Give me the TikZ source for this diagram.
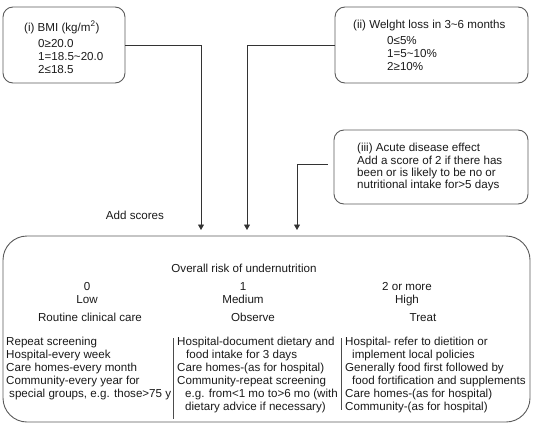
\documentclass[tikz,border=0pt]{standalone}
\usepackage{fontspec}
\setmainfont{Liberation Sans}
\usetikzlibrary{arrows.meta}
\definecolor{boxgray}{HTML}{5A5A5A}
\definecolor{txt}{HTML}{1A1A1A}
\begin{document}
\begin{tikzpicture}[x=1pt,y=-1pt,
  box/.style={draw=boxgray, line width=0.9pt, rounded corners=10pt, inner sep=0pt},
  bigbox/.style={draw=boxgray, line width=0.9pt, rounded corners=24pt, inner sep=0pt},
  conn/.style={draw=black!80, line width=0.8pt, -{Triangle[width=6pt,length=5.5pt]}},
  sep/.style={draw=black!70, line width=0.7pt},
  lbl/.style={inner sep=0pt, anchor=base, text=txt, font=\fontsize{11.6}{13}\selectfont},
  lblw/.style={inner sep=0pt, anchor=base west, text=txt, font=\fontsize{11.6}{13}\selectfont},
  col/.style={inner sep=0pt, anchor=north west, align=left, text=txt, font=\fontsize{11.6}{13}\selectfont},
  col3/.style={inner sep=0pt, anchor=north west, align=left, text=txt, font=\fontsize{11.6}{12}\selectfont}]
\useasboundingbox (0,0) rectangle (543,423);

% boxes
\node[box, minimum width=122pt, minimum height=76pt] (b1) at (64,45) {};
\node[box, minimum width=193pt, minimum height=76pt] (b2) at (431.5,45) {};
\node[box, minimum width=194pt, minimum height=74pt] (b3) at (431,167) {};
\node[bigbox, minimum width=527pt, minimum height=186pt] (big) at (266.5,329) {};

% box 1 text
\node[lblw] (t1h) at (24,31) {(i) BMI (kg/m\textsuperscript{2})};
\node[col] (t1) at (38,37.9) {\strut 0≥20.0\\1=18.5\textasciitilde 20.0\\2≤18.5};

% box 2 text
\node[lblw] (t2h) at (353,28) {(ii) Welght loss in 3\textasciitilde 6 months};
\node[col] (t2) at (387,34.9) {\strut 0≤5\%\\1=5\textasciitilde 10\%\\2≥10\%};

% box 3 text
\node[col3] (t3) at (357,142.6) {\strut (iii) Acute disease effect\\Add a score of 2 if there has\\been or is likely to be no or\\nutritional intake for>5 days};

% connectors
\coordinate (a1) at (201,230);
\coordinate (a2) at (247,230);
\coordinate (a3) at (297,230);
\draw[conn] (b1.east) -| (a1);
\draw[conn] (b2.west) -| (a2);
\draw[conn] ([xshift=-6pt,yshift=3pt]b3.west) -| (a3);

\node[lbl] (add) at (135,219) {Add scores};

% big box contents
\node[lbl] (ovr) at (244,272) {Overall risk of undernutrition};
\node[lbl] (s0) at (87,290) {0};
\node[lbl] (low) at (87,303) {Low};
\node[lbl] (s1) at (243,290) {1};
\node[lbl] (med) at (243,303) {Medium};
\node[lbl] (s2) at (407,290) {2 or more};
\node[lbl] (high) at (407,303) {High};
\node[lbl] (rcc) at (90,321) {Routine clinical care};
\node[lbl] (obs) at (253,321) {Observe};
\node[lbl] (trt) at (423,321) {Treat};

\node[col] (c1) at (6,336) {\strut Repeat screening\\Hospital-every week\\Care homes-every month\\Community-every year for\\\hspace{3pt}special groups, e.g. those>75 y};
\node[col] (c2) at (177,336) {\strut Hospital-document dietary and\\\hspace{9pt}food intake for 3 days\\Care homes-(as for hospital)\\Community-repeat screening\\\hspace{8pt}e.g. from<1 mo to>6 mo (with\\\hspace{8pt}dietary advice if necessary)};
\node[col] (c3) at (345,336) {\strut Hospital- refer to dietition or\\\hspace{7pt}implement local policies\\Generally food first followed by\\\hspace{7pt}food fortification and supplements\\Care homes-(as for hospital)\\Community-(as for hospital)};

\draw[sep] (173,338) -- (173,419);
\draw[sep] (341,338) -- (341,410);
\end{tikzpicture}
\end{document}
